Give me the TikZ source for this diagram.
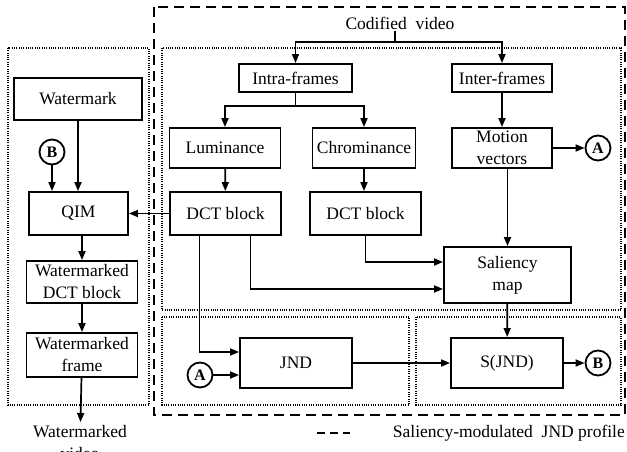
\documentclass[tikz,border=0pt]{standalone}
\usepackage{fontspec}
\setmainfont{Liberation Serif}
\usetikzlibrary{arrows.meta}

\tikzset{
    blk/.style={draw, line width=1.9pt, inner sep=0pt, align=center,
        font=\fontsize{17.5}{22}\selectfont},
    conn/.style={circle, draw, line width=1.8pt, inner sep=0pt,
        minimum size=25pt, font=\bfseries\fontsize{16}{16}\selectfont},
    arr/.style={line width=1.7pt, -{Triangle[length=9pt,width=7pt]}},
    wire/.style={line width=1.7pt},
    zone/.style={line width=1.4pt, dash pattern=on 1pt off 1.3pt},
}

\begin{document}
\begin{tikzpicture}[x=1pt, y=-1pt]
    \useasboundingbox (0,0) rectangle (627,452);

    % Framing boxes
    \draw[line width=2.8pt, dash pattern=on 10pt off 6pt] (154,7) rectangle (625,415);
    \draw[zone] (8,48) rectangle (149,405);
    \draw[zone] (162,48) rectangle (621,310);
    \draw[zone] (162,317) rectangle (409,405);
    \draw[zone] (416,317) rectangle (621,405);

    % Embedding side
    \node[blk, minimum width=128pt, minimum height=42pt] (wm) at (78,99) {Watermark};
    \node[conn] (b2) at (52,152) {B};
    \node[blk, minimum width=99pt, minimum height=43pt] (qim) at (78.5,213.5) {QIM};
    \node[blk, minimum width=111pt, minimum height=42pt] (wdct) at (82,282) {Watermarked\\DCT block};
    \node[blk, minimum width=111pt, minimum height=44pt] (wfr) at (82,355) {Watermarked\\frame};
    \node[anchor=north, inner sep=3pt, align=center, font=\fontsize{17.5}{22}\selectfont]
        (out) at (80,422) {Watermarked\\video};

    % Video analysis side
    \node[font=\fontsize{17.5}{20}\selectfont, inner sep=2pt] (cv) at (400,23) {Codified\ \ video};
    \node[blk, minimum width=113pt, minimum height=28pt] (intra) at (295.5,78) {Intra-frames};
    \node[blk, minimum width=100pt, minimum height=28pt] (inter) at (502,78) {Inter-frames};
    \node[blk, minimum width=111pt, minimum height=40pt] (lum) at (225,148) {Luminance};
    \node[blk, minimum width=103pt, minimum height=40pt] (chr) at (364,148) {Chrominance};
    \node[blk, minimum width=100pt, minimum height=40pt] (mot) at (502,148) {Motion\\vectors};
    \node[conn] (a1) at (598,148) {A};
    \node[blk, minimum width=111pt, minimum height=43pt] (dct1) at (225.5,213.5) {DCT block};
    \node[blk, minimum width=111pt, minimum height=43pt] (dct2) at (365.5,213.5) {DCT block};
    \node[blk, minimum width=127pt, minimum height=56pt] (sal) at (507.5,275) {Saliency\\map};
    \node[blk, minimum width=112pt, minimum height=50pt] (jnd) at (296,363) {JND};
    \node[blk, minimum width=112pt, minimum height=50pt] (sjnd) at (507,363) {S(JND)};
    \node[conn] (a2) at (200,375) {A};
    \node[conn] (b1) at (598,363) {B};

    % Splitting points
    \coordinate (split) at (395,42);
    \coordinate (isplit) at (295.5,106);

    % Connections
    \draw[wire] (split |- cv.south) -- (split);
    \draw[arr] (split) -| (intra.north);
    \draw[arr] (split) -| (inter.north);
    \draw[wire] (intra.south) -- (isplit);
    \draw[arr] (isplit) -| (lum.north);
    \draw[arr] (isplit) -| (chr.north);
    \draw[arr] (lum) -- (dct1);
    \draw[arr] (chr.south) -- (chr.south |- dct2.north);
    \draw[arr] (inter) -- (mot);
    \draw[arr] (mot) -- (a1);
    \draw[arr] (sal.north |- mot.south) -- (sal.north);
    \draw[arr] (dct2.south) |- ([yshift=13pt]sal.west);
    \draw[arr] ([xshift=25pt]dct1.south) |- ([yshift=-14pt]sal.west);
    \draw[arr] ([xshift=-26pt]dct1.south) |- ([yshift=11pt]jnd.west);
    \draw[arr] (a2) -- (jnd.west |- a2);
    \draw[arr] (jnd) -- (sjnd);
    \draw[arr] (sal) -- (sjnd);
    \draw[arr] (sjnd) -- (b1);
    \draw[arr] (dct1) -- (qim);
    \draw[arr] (wm.south) -- (wm.south |- qim.north);
    \draw[arr] (b2) -- (b2 |- qim.north);
    \draw[arr] (qim.south -| wdct) -- (wdct);
    \draw[arr] (wdct) -- (wfr);
    \draw[arr] (wfr) -- (out);

    % Legend
    \coordinate (lg1) at (317,433);
    \coordinate (lg2) at (350,433);
    \draw[line width=1.8pt, dash pattern=on 8pt off 5pt] (lg1) -- (lg2);
    \node[anchor=east, inner sep=1pt, font=\fontsize{17.5}{20}\selectfont] (lgt) at (626,433)
        {Saliency-modulated\ \ JND profile};
\end{tikzpicture}
\end{document}
